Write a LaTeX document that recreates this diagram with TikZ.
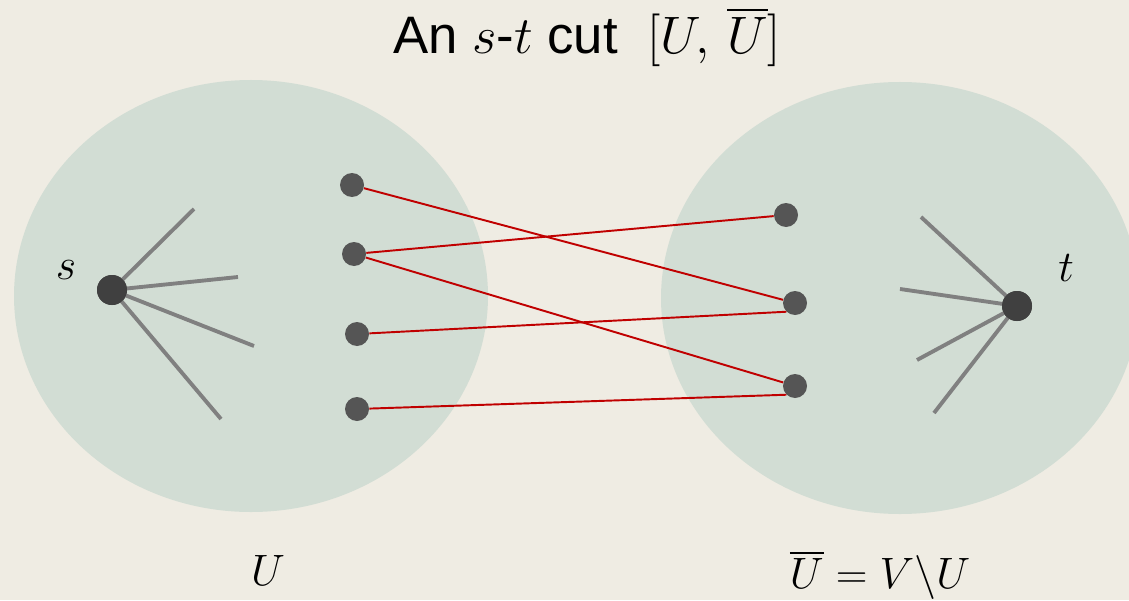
\RequirePackage{fix-cm}
\documentclass[tikz,border=0pt]{standalone}
\usepackage{amsmath,amssymb}
\usepackage{fontspec}
\setmainfont{Liberation Sans}
\usepackage{xcolor}
\usepackage{tikz}
\usetikzlibrary{positioning,calc}
\definecolor{bgPaper}{HTML}{EFECE3}
\definecolor{setFill}{HTML}{D2DDD4}
\definecolor{dotGray}{HTML}{555555}
\definecolor{termGray}{HTML}{404040}
\definecolor{fanGray}{HTML}{808080}
\definecolor{cutRed}{HTML}{C00000}
\newcommand{\titlemath}[1]{{\fontsize{30}{36}\selectfont$#1$}}
\tikzset{
  vset/.style={fill=setFill, draw=none},
  vdot/.style={circle, fill=dotGray, inner sep=0pt, minimum size=4.8mm},
  tdot/.style={circle, fill=termGray, inner sep=0pt, minimum size=6mm},
  fan/.style={draw=fanGray, line width=2.2pt},
  cutedge/.style={draw=cutRed, line width=1.1pt},
  lbl/.style={font=\fontsize{25}{30}\selectfont, inner sep=0pt}
}

\begin{document}
\begin{tikzpicture}
  \fill[bgPaper] (0,0) rectangle (22.58,12);
  \useasboundingbox (0,0) rectangle (22.58,12);
  \begin{scope}
    \clip (0,0) rectangle (22.58,12);
    \fill[vset] (5.02,6.08) ellipse [x radius=4.74, y radius=4.32];
    \fill[vset] (18.00,6.04) ellipse [x radius=4.78, y radius=4.32];
  \end{scope}

  \node[font=\fontsize{30}{36}\selectfont] (title) at (11.74,11.26) {An \titlemath{s}-\titlemath{t} cut \ \titlemath{[U,\,\overline{U}]}};

  % source and sink
  \node[tdot] (s) at (2.24,6.20) {};
  \node[tdot] (t) at (20.34,5.88) {};
  \node[lbl] (slbl) at (1.32,6.60) {$s$};
  \node[lbl] (tlbl) at (21.32,6.64) {$t$};

  % loose ends of the fans
  \coordinate (sa) at (3.88,7.82);
  \coordinate (sb) at (4.76,6.46);
  \coordinate (sc) at (5.08,5.08);
  \coordinate (sd) at (4.42,3.62);
  \coordinate (ta) at (18.42,7.66);
  \coordinate (tb) at (18.00,6.22);
  \coordinate (tc) at (18.34,4.80);
  \coordinate (td) at (18.68,3.74);
  \foreach \e in {sa,sb,sc,sd} \draw[fan] (s.center) -- (\e);
  \foreach \e in {ta,tb,tc,td} \draw[fan] (t.center) -- (\e);
  \node[tdot] at (s) {};
  \node[tdot] at (t) {};

  % vertices on both sides
  \node[vdot] (l1) at (7.04,8.30) {};
  \node[vdot] (l2) at (7.08,6.92) {};
  \node[vdot] (l3) at (7.14,5.32) {};
  \node[vdot] (l4) at (7.14,3.82) {};
  \node[vdot] (r1) at (15.72,7.70) {};
  \node[vdot] (r2) at (15.90,5.94) {};
  \node[vdot] (r3) at (15.90,4.28) {};

  % cut edges
  \draw[cutedge] (l1) -- (r2);
  \draw[cutedge] (l2) -- (r1);
  \draw[cutedge] (l2) -- (r3);
  \draw[cutedge] (l3) -- (r2.south west);
  \draw[cutedge] (l4) -- (r3.south west);

  \node[lbl] (ulbl) at (5.36,0.60) {$U$};
  \node[lbl] (ubar) at (17.6,0.50) {$\overline{U}=V\backslash U$};
\end{tikzpicture}
\end{document}
